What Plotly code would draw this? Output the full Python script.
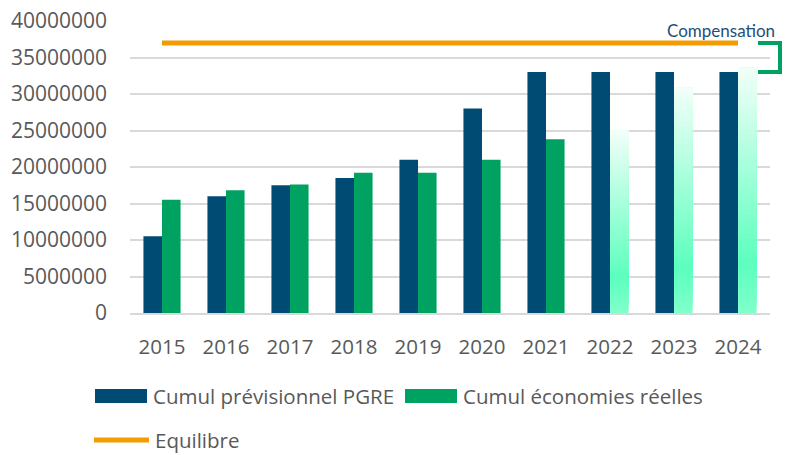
import plotly.graph_objects as go

years = ["2015", "2016", "2017", "2018", "2019", "2020", "2021", "2022", "2023", "2024"]
pgre = [10.5e6, 16.0e6, 17.5e6, 18.5e6, 21.0e6, 28.0e6, 33.0e6, 33.0e6, 33.0e6, 33.0e6]
reelles = [15.5e6, 16.8e6, 17.6e6, 19.2e6, 19.2e6, 21.0e6, 23.8e6, 25.0e6, 30.9e6, 33.6e6]
projected = [False, False, False, False, False, False, False, True, True, True]
equilibre = [37.0e6] * len(years)
y_ticks = [0, 5e6, 10e6, 15e6, 20e6, 25e6, 30e6, 35e6, 40e6]
y_labels = ["0", "5000000", "10000000", "15000000", "20000000", "25000000", "30000000", "35000000", "40000000"]

BLUE = "#004b73"
GREEN = "#00a262"
ORANGE = "#f39c00"
GRID = "#d9d9d9"
TXT = "#595959"
FONT = "Open Sans"

W, H = 808, 455
L, R, T, B = 130, 38, 21, 142
pw, ph = W - L - R, H - T - B


def px(x):
    return (x - L) / pw


def py(y):
    return (H - B - y) / ph


fig = go.Figure()
fig.add_trace(go.Bar(x=years, y=pgre, name="Cumul prévisionnel PGRE", marker=dict(color=BLUE, line=dict(width=0)),
                     offsetgroup="a", showlegend=False))
fig.add_trace(go.Bar(x=years, y=[None if p else v for v, p in zip(reelles, projected)],
                     name="Cumul économies réelles", marker=dict(color=GREEN, line=dict(width=0)),
                     offsetgroup="b", showlegend=False))


def lerp(c1, c2, t):
    return tuple(a + (b - a) * t for a, b in zip(c1, c2))


stops = [(0.0, (128, 255, 204)), (0.2, (92, 255, 189)), (1.0, (242, 255, 249))]


def grad(t):
    for (t0, c0), (t1, c1) in zip(stops[:-1], stops[1:]):
        if t <= t1:
            c = lerp(c0, c1, (t - t0) / (t1 - t0))
            return "rgb(%d,%d,%d)" % tuple(round(v) for v in c)
    return "rgb(%d,%d,%d)" % stops[-1][1]


# gradient-filled projected bars: overlapping layers, each running from its base up to the bar's value
N = 40
px_years = [y for y, p in zip(years, projected) if p]
px_vals = [v for v, p in zip(reelles, projected) if p]
for i in range(N):
    t = (i + 0.5) / N
    fig.add_trace(go.Bar(x=px_years, y=[v * (N - i) / N for v in px_vals], base=[v * i / N for v in px_vals],
                         marker=dict(color=grad(t), line=dict(width=0)), offsetgroup="b",
                         showlegend=False, hoverinfo="skip"))

fig.add_trace(go.Scatter(x=years, y=equilibre, mode="lines", name="Equilibre",
                         line=dict(color=ORANGE, width=5), showlegend=False))

# bracket "Compensation"
fig.add_shape(type="path", xref="paper", yref="y",
              path="M %f,%f L %f,%f L %f,%f L %f,%f" % (px(758), equilibre[-1], px(780), equilibre[-1],
                                                       px(780), pgre[-1], px(758), pgre[-1]),
              line=dict(color=GREEN, width=4))
fig.add_annotation(x=px(777), y=py(30), xref="paper", yref="paper", text="Compensation", showarrow=False,
                   xanchor="right", yanchor="middle", font=dict(family="Lato", size=17, color="#1f4e79"))

# legend
leg = [
    ("rect", BLUE, 95, 147, 396, "Cumul prévisionnel PGRE"),
    ("rect", GREEN, 405, 457, 396, "Cumul économies réelles"),
    ("line", ORANGE, 94, 149, 440, "Equilibre"),
]
for kind, col, x0, x1, yy, label in leg:
    if kind == "rect":
        fig.add_shape(type="rect", xref="paper", yref="paper", x0=px(x0), x1=px(x1), y0=py(yy - 7), y1=py(yy + 7),
                      fillcolor=col, line=dict(width=0))
    else:
        fig.add_shape(type="line", xref="paper", yref="paper", x0=px(x0), x1=px(x1), y0=py(yy), y1=py(yy),
                      line=dict(color=col, width=5))
    fig.add_annotation(x=px(x1 + 4), y=py(yy), xref="paper", yref="paper", text=label, showarrow=False,
                       xanchor="left", yanchor="middle", font=dict(family=FONT, size=20.5, color=TXT))

fig.update_layout(
    width=W, height=H, margin=dict(l=L, r=R, t=T, b=B, autoexpand=False),
    paper_bgcolor="white", plot_bgcolor="white",
    barmode="group", bargap=0.42, bargroupgap=0,
    font=dict(family=FONT, size=21, color=TXT),
)
fig.update_xaxes(type="category", showline=True, linecolor=GRID, linewidth=2, showgrid=False, automargin=False,
                 tickfont=dict(family=FONT, size=20.5, color=TXT), ticks="", ticklabelstandoff=14)
fig.update_yaxes(range=[0, 40e6], tickvals=y_ticks, ticktext=y_labels, showgrid=True, gridcolor=GRID,
                 gridwidth=2, zeroline=False, showline=False, automargin=False,
                 tickfont=dict(family=FONT, size=21, color=TXT), ticklabelstandoff=22)

fig.write_html("out.html", config={"displayModeBar": False},
               post_script="document.body.style.margin='0';document.body.style.padding='0';"
                           "document.body.style.overflow='hidden';")
